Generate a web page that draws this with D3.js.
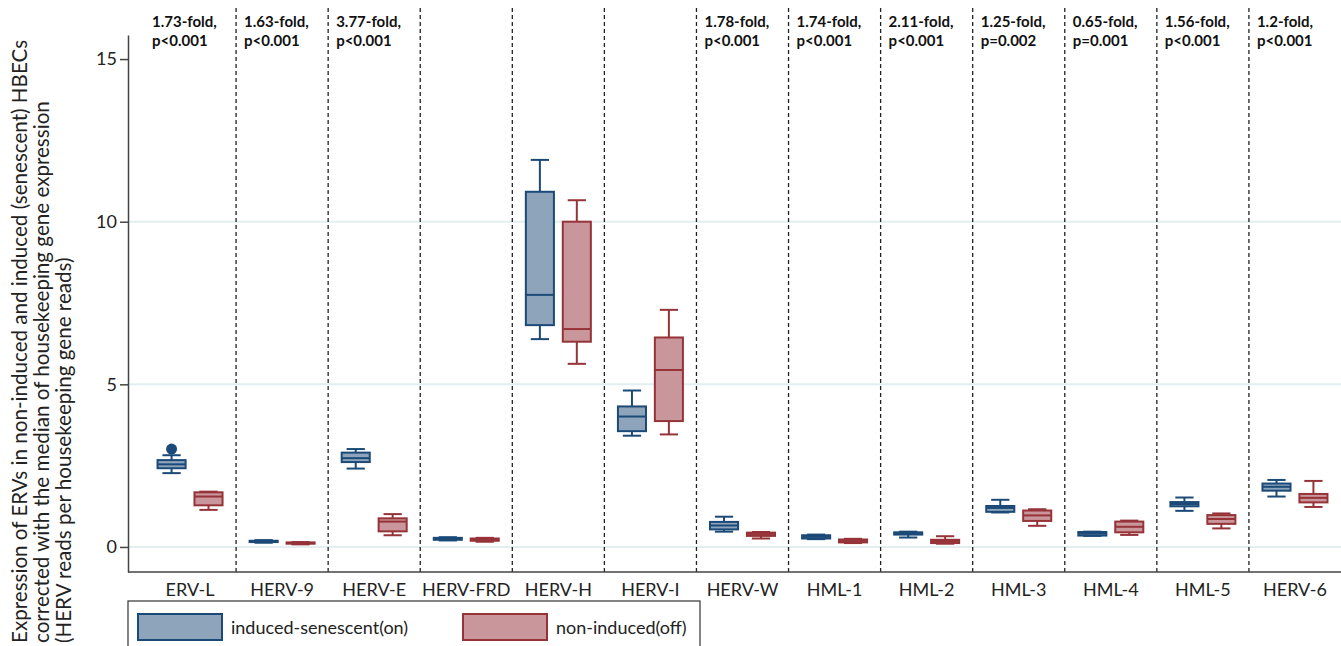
<!DOCTYPE html>
<html>
<head>
<meta charset="utf-8">
<script src="https://cdn.jsdelivr.net/npm/d3@7"></script>
<style>
  body { margin: 0; background: #fff; }
  svg { display: block; font-family: Lato, "Open Sans", sans-serif; }
</style>
</head>
<body>
<div id="chart"></div>
<script>
// categories along the x axis
const categories = ['ERV-L', 'HERV-9', 'HERV-E', 'HERV-FRD', 'HERV-H', 'HERV-I', 'HERV-W',
  'HML-1', 'HML-2', 'HML-3', 'HML-4', 'HML-5', 'HERV-6'];

const groups = ['on', 'off'];
const groupNames = ['induced-senescent(on)', 'non-induced(off)'];

// [min, q1, median, q3, max]
const inducedStats = [
  [2.27, 2.42, 2.54, 2.67, 2.82],
  [0.13, 0.15, 0.17, 0.19, 0.21],
  [2.41, 2.61, 2.73, 2.90, 3.01],
  [0.20, 0.22, 0.25, 0.28, 0.30],
  [6.39, 6.82, 7.75, 10.92, 11.90],
  [3.42, 3.56, 4.01, 4.32, 4.81],
  [0.47, 0.54, 0.66, 0.77, 0.93],
  [0.24, 0.26, 0.31, 0.36, 0.38],
  [0.29, 0.38, 0.42, 0.45, 0.47],
  [1.06, 1.08, 1.20, 1.26, 1.45],
  [0.34, 0.35, 0.41, 0.46, 0.47],
  [1.11, 1.25, 1.32, 1.38, 1.52],
  [1.55, 1.73, 1.85, 1.95, 2.06]
];

const nonInducedStats = [
  [1.14, 1.28, 1.55, 1.68, 1.70],
  [0.08, 0.10, 0.12, 0.14, 0.15],
  [0.36, 0.48, 0.78, 0.88, 1.01],
  [0.16, 0.19, 0.22, 0.26, 0.28],
  [5.63, 6.31, 6.70, 10.00, 10.66],
  [3.46, 3.87, 5.44, 6.44, 7.29],
  [0.26, 0.34, 0.40, 0.44, 0.46],
  [0.12, 0.14, 0.18, 0.23, 0.25],
  [0.10, 0.12, 0.18, 0.22, 0.33],
  [0.65, 0.80, 0.97, 1.12, 1.16],
  [0.37, 0.45, 0.62, 0.78, 0.81],
  [0.57, 0.71, 0.86, 0.98, 1.03],
  [1.23, 1.37, 1.51, 1.63, 2.03]
];

const outliers = [
  { cat: 'ERV-L', group: 'on', value: 3.01 }
];

const foldLabels = ['1.73-fold,', '1.63-fold,', '3.77-fold,', '', '', '', '1.78-fold,',
  '1.74-fold,', '2.11-fold,', '1.25-fold,', '0.65-fold,', '1.56-fold,', '1.2-fold,'];
const pLabels = ['p<0.001', 'p<0.001', 'p<0.001', '', '', '', 'p<0.001',
  'p<0.001', 'p<0.001', 'p=0.002', 'p=0.001', 'p<0.001', 'p<0.001'];

const yTicks = [0, 5, 10, 15];
const yGrid = [0, 5, 10];

const yTitle = [
  'Expression of ERVs in non-induced and induced (senescent) HBECs',
  'corrected with the median of housekeeping gene expression',
  '(HERV reads per housekeeping gene reads)'
];

const width = 1341;
const height = 646;
const plotLeft = 128, plotTop = 35, plotBottom = 572;

const strokeCol = { on: '#1b4a78', off: '#963339' };
const fillCol = { on: '#8ea4ba', off: '#c9979b' };

const svg = d3.select('#chart').append('svg')
  .attr('width', width)
  .attr('height', height);

const x = d3.scaleBand().domain(categories).range([144, width]).padding(0);
const xSub = d3.scaleBand().domain(groups)
  .range([x.bandwidth() / 2 - 32.5, x.bandwidth() / 2 + 32.5])
  .paddingInner(0.24);

const y = d3.scaleLinear().domain([-0.77, 15.74]).range([plotBottom, plotTop]);

// gridlines
svg.append('g')
  .selectAll('line')
  .data(yGrid)
  .join('line')
  .attr('x1', plotLeft)
  .attr('x2', width)
  .attr('y1', d => y(d))
  .attr('y2', d => y(d))
  .attr('stroke', '#e3eef1')
  .attr('stroke-width', 2);

// dashed separators between categories
svg.append('g')
  .selectAll('line')
  .data(categories.slice(1))
  .join('line')
  .attr('x1', d => x(d))
  .attr('x2', d => x(d))
  .attr('y1', 8)
  .attr('y2', plotBottom)
  .attr('stroke', '#222')
  .attr('stroke-width', 1.3)
  .attr('stroke-dasharray', '4,3');

// y axis
const yAxis = svg.append('g')
  .attr('transform', `translate(${plotLeft},0)`)
  .call(d3.axisLeft(y).tickValues(yTicks).tickSize(8).tickSizeOuter(0).tickFormat(d3.format('d')));
yAxis.select('.domain').attr('stroke', '#444').attr('stroke-width', 1.5);
yAxis.selectAll('.tick line').attr('stroke', '#444').attr('stroke-width', 1.5);
yAxis.selectAll('.tick text')
  .attr('font-size', 18)
  .attr('font-family', 'Lato, sans-serif')
  .attr('fill', '#222')
  .attr('x', -11);

// x axis
const xAxis = svg.append('g')
  .attr('transform', `translate(0,${plotBottom})`)
  .call(d3.axisBottom(x).tickSize(0).tickSizeOuter(0));
xAxis.select('.domain').remove();
xAxis.selectAll('.tick text')
  .attr('font-size', 18)
  .attr('font-family', 'Lato, sans-serif')
  .attr('fill', '#222')
  .attr('dy', '1.15em');
svg.append('line')
  .attr('x1', plotLeft).attr('x2', width)
  .attr('y1', plotBottom).attr('y2', plotBottom)
  .attr('stroke', '#444').attr('stroke-width', 1.5);

// boxes
const boxData = [];
categories.forEach((c, i) => {
  boxData.push({ cat: c, group: 'on', s: inducedStats[i] });
  boxData.push({ cat: c, group: 'off', s: nonInducedStats[i] });
});

const bw = xSub.bandwidth();
const capW = bw * 0.65;

const box = svg.append('g')
  .selectAll('g')
  .data(boxData)
  .join('g')
  .attr('transform', d => `translate(${x(d.cat) + xSub(d.group)},0)`)
  .attr('stroke', d => strokeCol[d.group])
  .attr('stroke-width', 2);

// whiskers
box.append('line')
  .attr('x1', bw / 2).attr('x2', bw / 2)
  .attr('y1', d => y(d.s[0])).attr('y2', d => y(d.s[1]));
box.append('line')
  .attr('x1', bw / 2).attr('x2', bw / 2)
  .attr('y1', d => y(d.s[3])).attr('y2', d => y(d.s[4]));
box.append('line')
  .attr('x1', (bw - capW) / 2).attr('x2', (bw + capW) / 2)
  .attr('y1', d => y(d.s[0])).attr('y2', d => y(d.s[0]));
box.append('line')
  .attr('x1', (bw - capW) / 2).attr('x2', (bw + capW) / 2)
  .attr('y1', d => y(d.s[4])).attr('y2', d => y(d.s[4]));

box.append('rect')
  .attr('x', 0)
  .attr('width', bw)
  .attr('y', d => y(d.s[3]))
  .attr('height', d => y(d.s[1]) - y(d.s[3]))
  .attr('fill', d => fillCol[d.group]);

box.append('line')
  .attr('x1', 0).attr('x2', bw)
  .attr('y1', d => y(d.s[2])).attr('y2', d => y(d.s[2]));

// outliers
svg.append('g')
  .selectAll('circle')
  .data(outliers)
  .join('circle')
  .attr('cx', d => x(d.cat) + xSub(d.group) + bw / 2)
  .attr('cy', d => y(d.value))
  .attr('r', 5.5)
  .attr('fill', d => strokeCol[d.group]);

// fold-change annotations
const ann = svg.append('g')
  .attr('font-size', 15)
  .attr('font-weight', 'bold')
  .attr('fill', '#111');
ann.selectAll('text.fold')
  .data(categories)
  .join('text')
  .attr('class', 'fold')
  .attr('x', d => x(d) + 8)
  .attr('y', 27)
  .text((d, i) => foldLabels[i]);
ann.selectAll('text.pval')
  .data(categories)
  .join('text')
  .attr('class', 'pval')
  .attr('x', d => x(d) + 8)
  .attr('y', 46)
  .text((d, i) => pLabels[i]);

// y axis title
svg.append('g')
  .selectAll('text')
  .data(yTitle)
  .join('text')
  .attr('transform', (d, i) => `translate(${27 + i * 22},643) rotate(-90)`)
  .attr('font-size', 20.6)
  .attr('fill', '#222')
  .text(d => d);

// legend
const legend = svg.append('g');
legend.append('rect')
  .attr('x', plotLeft).attr('y', 601)
  .attr('width', 572).attr('height', 60)
  .attr('fill', '#fff')
  .attr('stroke', '#333')
  .attr('stroke-width', 1.2);

const legX = d3.scaleOrdinal().domain(groups).range([138, 463]);
const item = legend.selectAll('g.item')
  .data(groups)
  .join('g')
  .attr('class', 'item')
  .attr('transform', d => `translate(${legX(d)},614)`);
item.append('rect')
  .attr('width', 84).attr('height', 26)
  .attr('fill', d => fillCol[d])
  .attr('stroke', d => strokeCol[d])
  .attr('stroke-width', 2);
item.append('text')
  .attr('x', 93)
  .attr('y', 20)
  .attr('font-size', 18)
  .attr('fill', '#222')
  .text((d, i) => groupNames[i]);
</script>
</body>
</html>
